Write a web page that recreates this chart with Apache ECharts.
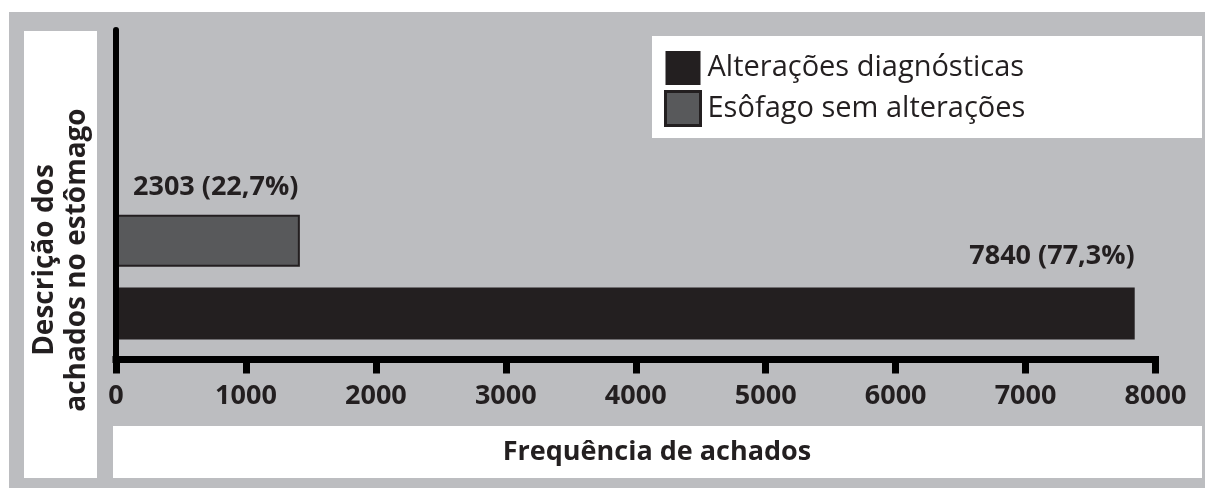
<!DOCTYPE html>
<html>
<head>
<meta charset="utf-8">
<script src="https://cdn.jsdelivr.net/npm/echarts@6/dist/echarts.min.js"></script>
<style>
html,body{margin:0;padding:0;background:#fff;}
#c{width:1205px;height:488px;}
</style>
</head>
<body>
<div id="c"></div>
<script>
// ---- data ----
var categories = ['Achados', ' '];
var seriesNames = ['Alterações diagnósticas', 'Esôfago sem alterações'];
var diagValues = [7840, null];        // bar length as drawn
var semAltValues = [1415, null];      // bar length as drawn in the picture
var valueLabels = ['7840 (77,3%)', '2303 (22,7%)'];
var xTicks = [0, 1000, 2000, 3000, 4000, 5000, 6000, 7000, 8000];
var xTitle = 'Frequência de achados';
var yTitle = 'Descrição dos\nachados no estômago';

var FONT = '"Open Sans", sans-serif';
var INK = '#231f20';

var chart = echarts.init(document.getElementById('c'), null, {renderer: 'canvas'});
var option = {
  animation: false,
  backgroundColor: '#ffffff',
  graphic: [
    {type: 'rect', z: -10, silent: true, shape: {x: 9, y: 12, width: 1196, height: 476}, style: {fill: '#bcbdc0'}},
    {type: 'rect', z: -9, silent: true, shape: {x: 24, y: 31, width: 73, height: 447}, style: {fill: '#ffffff'}},
    {type: 'rect', z: -9, silent: true, shape: {x: 113, y: 426, width: 1089, height: 52}, style: {fill: '#ffffff'}},
    {type: 'rect', z: -9, silent: true, shape: {x: 652, y: 36, width: 550, height: 102}, style: {fill: '#ffffff'}},
    {type: 'text', z: 5, silent: true, x: 657, y: 452,
      style: {text: xTitle, font: 'bold 27px ' + FONT, fill: INK, align: 'center', verticalAlign: 'middle'}},
    {type: 'text', z: 5, silent: true, x: 61, y: 260, rotation: Math.PI / 2,
      style: {text: yTitle, font: 'bold 28px ' + FONT, lineHeight: 32, fill: INK, align: 'center', verticalAlign: 'middle'}}
  ],
  legend: {
    orient: 'vertical',
    left: 664,
    top: 51,
    padding: 0,
    itemWidth: 35,
    itemHeight: 34,
    itemGap: 5,
    icon: 'rect',
    selectedMode: false,
    textStyle: {fontFamily: FONT, fontSize: 29, color: INK, padding: [0, 0, 0, 2]},
    data: [
      {name: seriesNames[0], itemStyle: {color: INK, borderWidth: 0}},
      {name: seriesNames[1], itemStyle: {color: '#58595b', borderColor: INK, borderWidth: 3}}
    ]
  },
  grid: {left: 116, right: 49.5, top: 30, bottom: 128.5, containLabel: false},
  xAxis: {
    type: 'value',
    min: xTicks[0],
    max: xTicks[xTicks.length - 1],
    interval: xTicks[1] - xTicks[0],
    axisLine: {show: true, lineStyle: {color: '#000', width: 7, cap: 'square'}},
    axisTick: {show: true, length: 14, lineStyle: {color: '#000', width: 7}},
    splitLine: {show: false},
    axisLabel: {
      color: INK, fontFamily: FONT, fontWeight: 'bold', fontSize: 27, margin: 23,
      formatter: function (v) { return String(v); }
    }
  },
  yAxis: {
    type: 'category',
    data: categories,
    z: 3,
    axisLine: {show: true, lineStyle: {color: '#000', width: 6}},
    axisTick: {show: false},
    axisLabel: {show: false},
    splitLine: {show: false}
  },
  series: [
    {
      name: seriesNames[1],
      type: 'bar',
      data: semAltValues,
      barWidth: 52,
      barGap: '40%',
      itemStyle: {color: '#58595b', borderColor: INK, borderWidth: 2},
      label: {
        show: true,
        position: [17, -27],
        align: 'left',
        verticalAlign: 'middle',
        formatter: function () { return valueLabels[1]; },
        fontFamily: FONT, fontWeight: 'bold', fontSize: 27, color: INK
      }
    },
    {
      name: seriesNames[0],
      type: 'bar',
      data: diagValues,
      barWidth: 52,
      barGap: '40%',
      itemStyle: {color: INK},
      label: {
        show: true,
        position: ['100%', -31],
        align: 'right',
        verticalAlign: 'middle',
        formatter: function () { return valueLabels[0]; },
        fontFamily: FONT, fontWeight: 'bold', fontSize: 27, color: INK
      }
    }
  ]
};
chart.setOption(option);
</script>
</body>
</html>
